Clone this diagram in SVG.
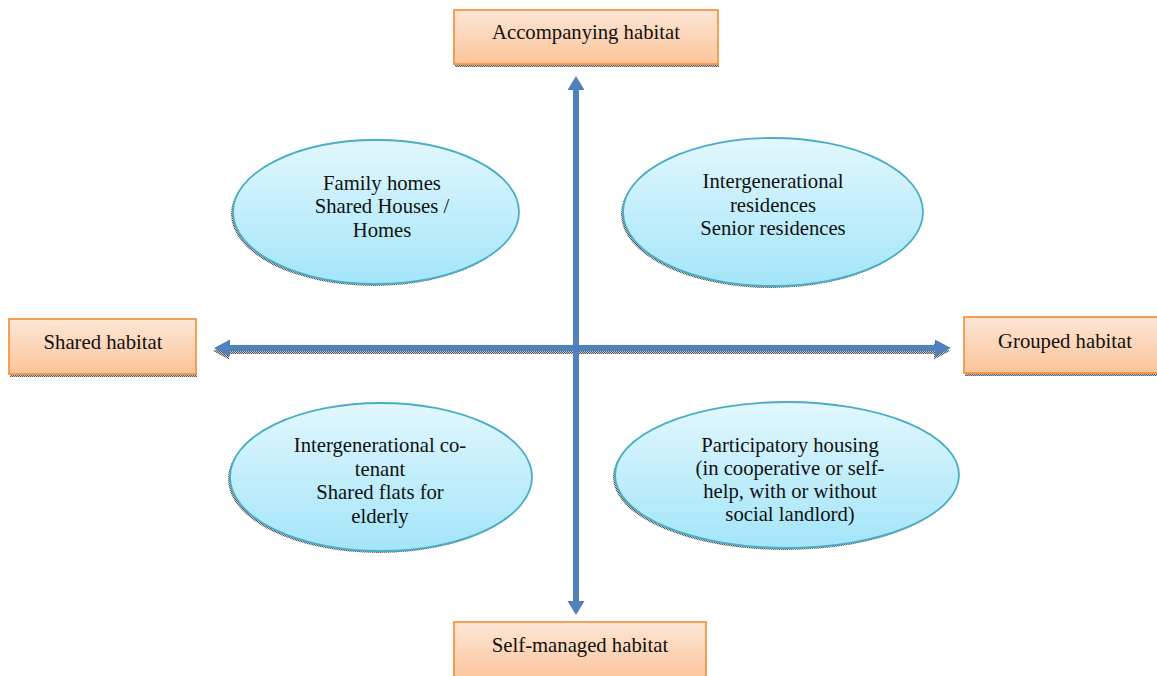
<svg xmlns="http://www.w3.org/2000/svg" width="1157" height="676" viewBox="0 0 1157 676">
  <defs>
    <linearGradient id="boxGrad" x1="0" y1="0" x2="0" y2="1">
      <stop offset="0" stop-color="#fde6d6"/>
      <stop offset="1" stop-color="#fbc49a"/>
    </linearGradient>
    <linearGradient id="ellGrad" x1="0" y1="0" x2="0" y2="1">
      <stop offset="0" stop-color="#e2f7fd"/>
      <stop offset="1" stop-color="#a3e5f9"/>
    </linearGradient>
    <pattern id="hatch" width="2" height="2" patternUnits="userSpaceOnUse">
      <rect width="2" height="2" fill="#c8c8c8"/>
      <rect width="1" height="1" fill="#555"/>
      <rect x="1" y="1" width="1" height="1" fill="#555"/>
    </pattern>
    <style>
      .box { fill: url(#boxGrad); stroke: #f79646; stroke-width: 1.8; }
      .ell { fill: url(#ellGrad); stroke: #4aacc5; stroke-width: 1.8; }
      .shadow { fill: url(#hatch); }
      .arrow { fill: #4f81bd; }
      .lbl { font-family: "Liberation Serif", "Times New Roman", serif; font-size: 20.7px; fill: #111; text-anchor: middle; }
    </style>
  </defs>

  <g id="connectors">
    <polygon class="shadow" points="213,351 229,342.5 229,348 934,348 934,342.5 950,351 934,359.5 934,354 229,354 229,359.5"/>
    <polygon class="arrow" points="214,348 230,339.5 230,345 935,345 935,339.5 951,348 935,356.5 935,351 230,351 230,356.5"/>
    <polygon class="arrow" points="576,76 584.5,90 579,90 579,601 584.5,601 576,615 567.5,601 573,601 573,90 567.5,90"/>
  </g>

  <g id="node-accompanying">
    <rect class="shadow" x="455" y="63" width="264" height="4"/>
    <rect class="box" x="454" y="10" width="264" height="54"/>
    <text class="lbl" x="586" y="39">Accompanying habitat</text>
  </g>

  <g id="node-shared">
    <rect class="shadow" x="10" y="373" width="187" height="4"/>
    <rect class="box" x="9" y="319" width="187" height="55"/>
    <text class="lbl" x="103" y="349">Shared habitat</text>
  </g>

  <g id="node-grouped">
    <rect class="shadow" x="965" y="372" width="200" height="4"/>
    <rect class="box" x="964" y="317" width="200" height="56"/>
    <text class="lbl" x="1065" y="348">Grouped habitat</text>
  </g>

  <g id="node-selfmanaged">
    <rect class="box" x="454" y="622" width="252" height="60"/>
    <text class="lbl" x="580" y="652">Self-managed habitat</text>
  </g>

  <g id="node-family">
    <ellipse class="shadow" cx="374" cy="214" rx="143" ry="72"/>
    <ellipse class="ell" cx="376" cy="212" rx="143" ry="72"/>
    <text class="lbl" x="382" y="190">Family homes</text>
    <text class="lbl" x="382" y="213">Shared Houses /</text>
    <text class="lbl" x="382" y="237">Homes</text>
  </g>

  <g id="node-intergen-res">
    <ellipse class="shadow" cx="771" cy="214" rx="150" ry="74"/>
    <ellipse class="ell" cx="773" cy="212" rx="150" ry="74"/>
    <text class="lbl" x="773" y="188">Intergenerational</text>
    <text class="lbl" x="773" y="212">residences</text>
    <text class="lbl" x="773" y="235">Senior residences</text>
  </g>

  <g id="node-cotenant">
    <ellipse class="shadow" cx="379" cy="479" rx="151" ry="74"/>
    <ellipse class="ell" cx="381" cy="477" rx="151" ry="74"/>
    <text class="lbl" x="380" y="452">Intergenerational co-</text>
    <text class="lbl" x="380" y="476">tenant</text>
    <text class="lbl" x="380" y="499">Shared flats for</text>
    <text class="lbl" x="380" y="523">elderly</text>
  </g>

  <g id="node-participatory">
    <ellipse class="shadow" cx="785" cy="477" rx="172" ry="73"/>
    <ellipse class="ell" cx="787" cy="475" rx="172" ry="73"/>
    <text class="lbl" x="790" y="452">Participatory housing</text>
    <text class="lbl" x="790" y="475">(in cooperative or self-</text>
    <text class="lbl" x="790" y="498">help, with or without</text>
    <text class="lbl" x="790" y="521">social landlord)</text>
  </g>
</svg>
